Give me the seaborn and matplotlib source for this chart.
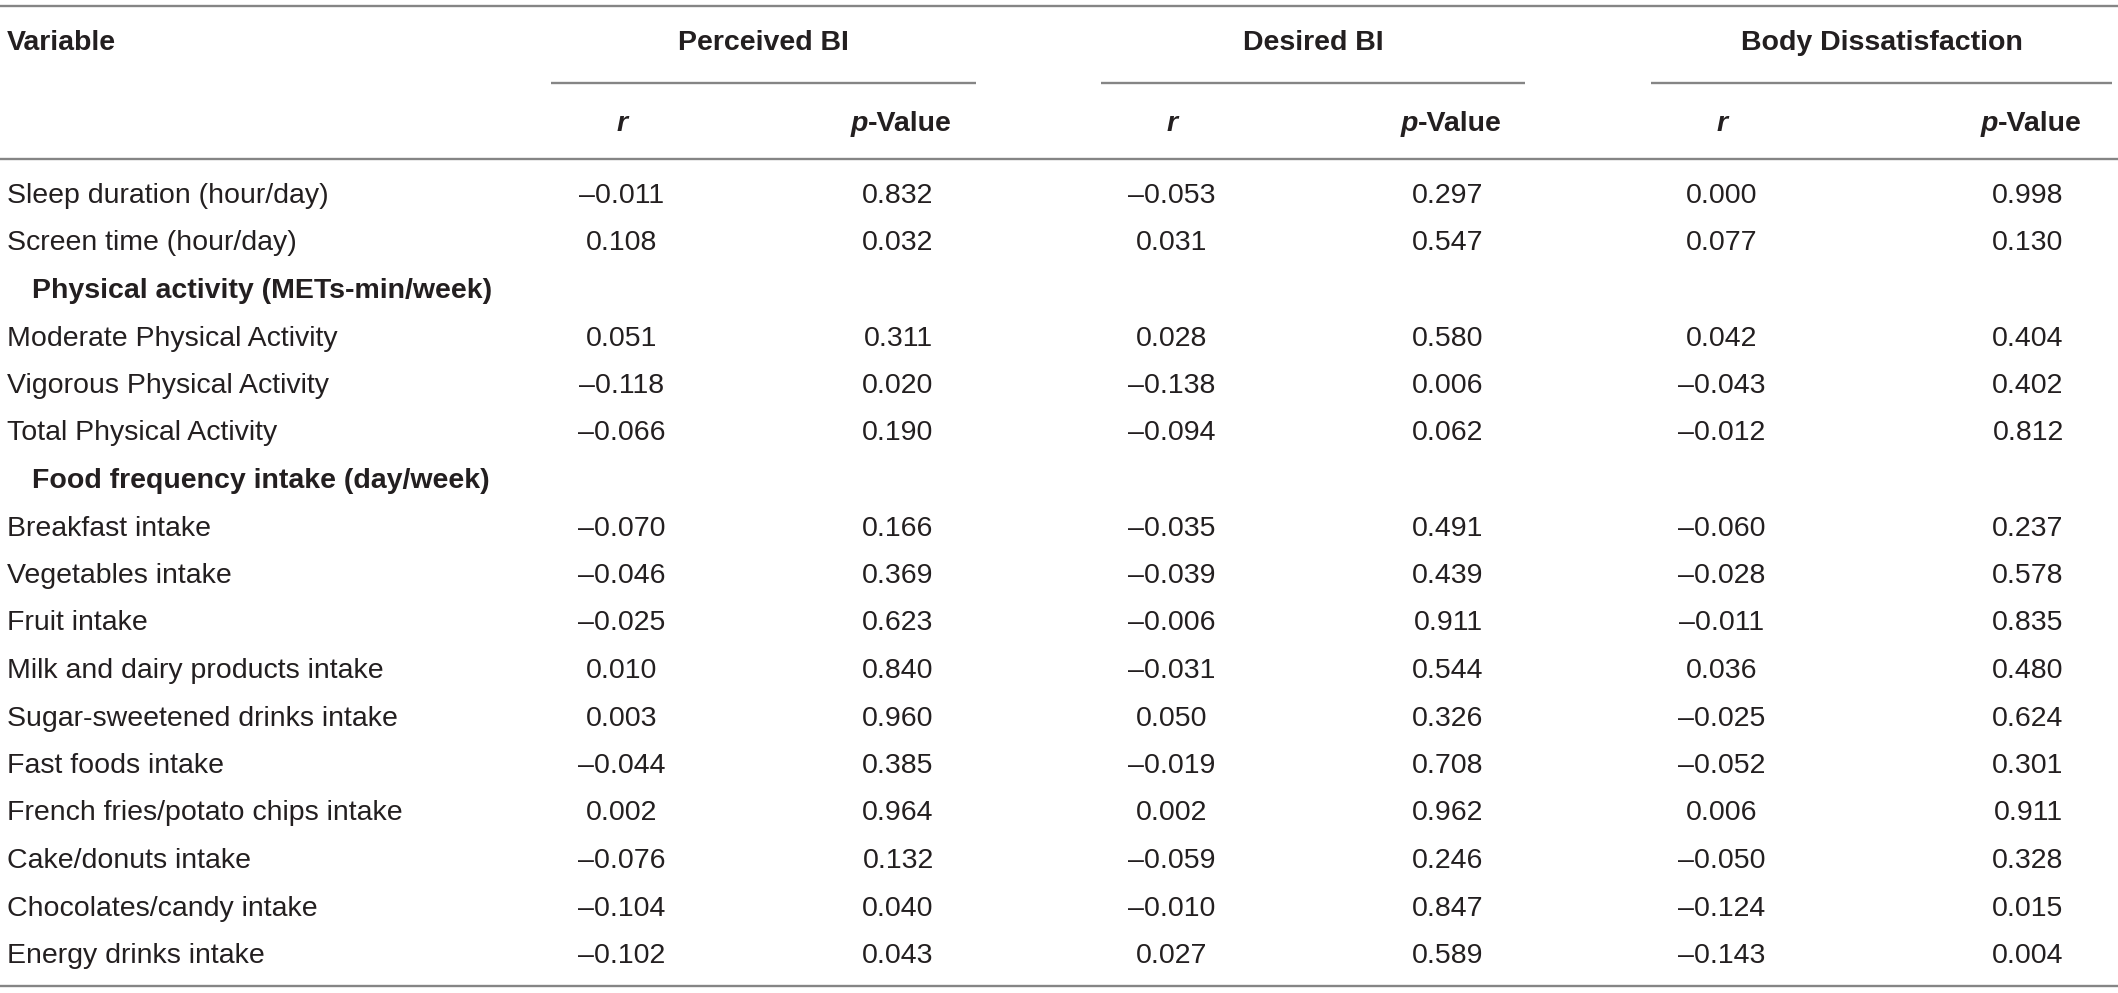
import matplotlib
matplotlib.use("Agg")
import matplotlib.pyplot as plt
import seaborn as sns
import pandas as pd

# ---------------- data ----------------
variables = [
    "Sleep duration (hour/day)",
    "Screen time (hour/day)",
    "Physical activity (METs-min/week)",
    "Moderate Physical Activity",
    "Vigorous Physical Activity",
    "Total Physical Activity",
    "Food frequency intake (day/week)",
    "Breakfast intake",
    "Vegetables intake",
    "Fruit intake",
    "Milk and dairy products intake",
    "Sugar-sweetened drinks intake",
    "Fast foods intake",
    "French fries/potato chips intake",
    "Cake/donuts intake",
    "Chocolates/candy intake",
    "Energy drinks intake",
]
section_rows = ["Physical activity (METs-min/week)", "Food frequency intake (day/week)"]

groups = ["Perceived BI", "Desired BI", "Body Dissatisfaction"]
sub_headers = ["r", "p"]

perceived_r = [-0.011, 0.108, None, 0.051, -0.118, -0.066, None, -0.070, -0.046, -0.025,
               0.010, 0.003, -0.044, 0.002, -0.076, -0.104, -0.102]
perceived_p = [0.832, 0.032, None, 0.311, 0.020, 0.190, None, 0.166, 0.369, 0.623,
               0.840, 0.960, 0.385, 0.964, 0.132, 0.040, 0.043]
desired_r = [-0.053, 0.031, None, 0.028, -0.138, -0.094, None, -0.035, -0.039, -0.006,
             -0.031, 0.050, -0.019, 0.002, -0.059, -0.010, 0.027]
desired_p = [0.297, 0.547, None, 0.580, 0.006, 0.062, None, 0.491, 0.439, 0.911,
             0.544, 0.326, 0.708, 0.962, 0.246, 0.847, 0.589]
dissat_r = [0.000, 0.077, None, 0.042, -0.043, -0.012, None, -0.060, -0.028, -0.011,
            0.036, -0.025, -0.052, 0.006, -0.050, -0.124, -0.143]
dissat_p = [0.998, 0.130, None, 0.404, 0.402, 0.812, None, 0.237, 0.578, 0.835,
            0.480, 0.624, 0.301, 0.911, 0.328, 0.015, 0.004]

df = pd.DataFrame({
    "Variable": variables,
    "Perceived BI r": perceived_r, "Perceived BI p": perceived_p,
    "Desired BI r": desired_r, "Desired BI p": desired_p,
    "Body Dissatisfaction r": dissat_r, "Body Dissatisfaction p": dissat_p,
})
value_cols = ["Perceived BI r", "Perceived BI p", "Desired BI r", "Desired BI p",
              "Body Dissatisfaction r", "Body Dissatisfaction p"]

# ---------------- styling / layout ----------------
sns.set_theme(style="white")
plt.rcParams["font.family"] = ["Liberation Sans", "DejaVu Sans"]

TXT = "#231f20"
LINE = "#858585"
FS = 20.5

W, H, DPI = 2118, 993, 100
fig = plt.figure(figsize=(W / DPI, H / DPI), dpi=DPI)
ax = fig.add_axes([0, 0, 1, 1])
# x in pixel-like units, y in row units (row i centred at row0 + step*i px)
row0, step = 196.0, 47.5
ax.set_xlim(0, W)
ax.set_ylim((H - row0) / step, -row0 / step)
ax.axis("off")


def ry(px):
    return (px - row0) / step


col_x = [622, 898, 1172, 1448, 1722, 2028]
group_lines = [(551, 976), (1101, 1525), (1651, 2112)]


def fmt(v):
    s = f"{abs(v):.3f}"
    return ("\u2013" + s) if v < 0 else s


# rules
ax.hlines([ry(6), ry(159), ry(986)], 0, W, color=LINE, lw=1.7)
for x0, x1 in group_lines:
    ax.hlines(ry(83), x0, x1, color=LINE, lw=1.7)

# headers
ax.text(7, ry(43), "Variable", ha="left", va="center", fontsize=FS,
        fontweight="bold", color=TXT)
for g, (x0, x1) in zip(groups, group_lines):
    ax.text((x0 + x1) / 2, ry(43), g, ha="center", va="center", fontsize=FS,
            fontweight="bold", color=TXT)

for k, x in enumerate(col_x):
    if k % 2 == 0:
        ax.text(x, ry(124), sub_headers[0], ha="center", va="center",
                fontsize=FS, fontweight="bold", fontstyle="italic", color=TXT)
    else:
        # "p" (bold italic) + "-Value" (bold), the pair centred on the column
        t = ax.text(x - 30, ry(124), sub_headers[1], ha="right", va="center",
                    fontsize=FS, fontweight="bold", fontstyle="italic", color=TXT)
        ax.annotate("-Value", xy=(1, 0), xycoords=t, ha="left", va="bottom",
                    fontsize=FS, fontweight="bold", color=TXT)

# body
for i, row in df.iterrows():
    name = row["Variable"]
    if name in section_rows:
        ax.text(32, i, name, ha="left", va="center", fontsize=FS,
                fontweight="bold", color=TXT)
        continue
    ax.text(7, i, name, ha="left", va="center", fontsize=FS, color=TXT)
    for x, c in zip(col_x, value_cols):
        ax.text(x, i, fmt(row[c]), ha="center", va="center", fontsize=FS, color=TXT)

fig.savefig("out.png", dpi=DPI, facecolor="white")
